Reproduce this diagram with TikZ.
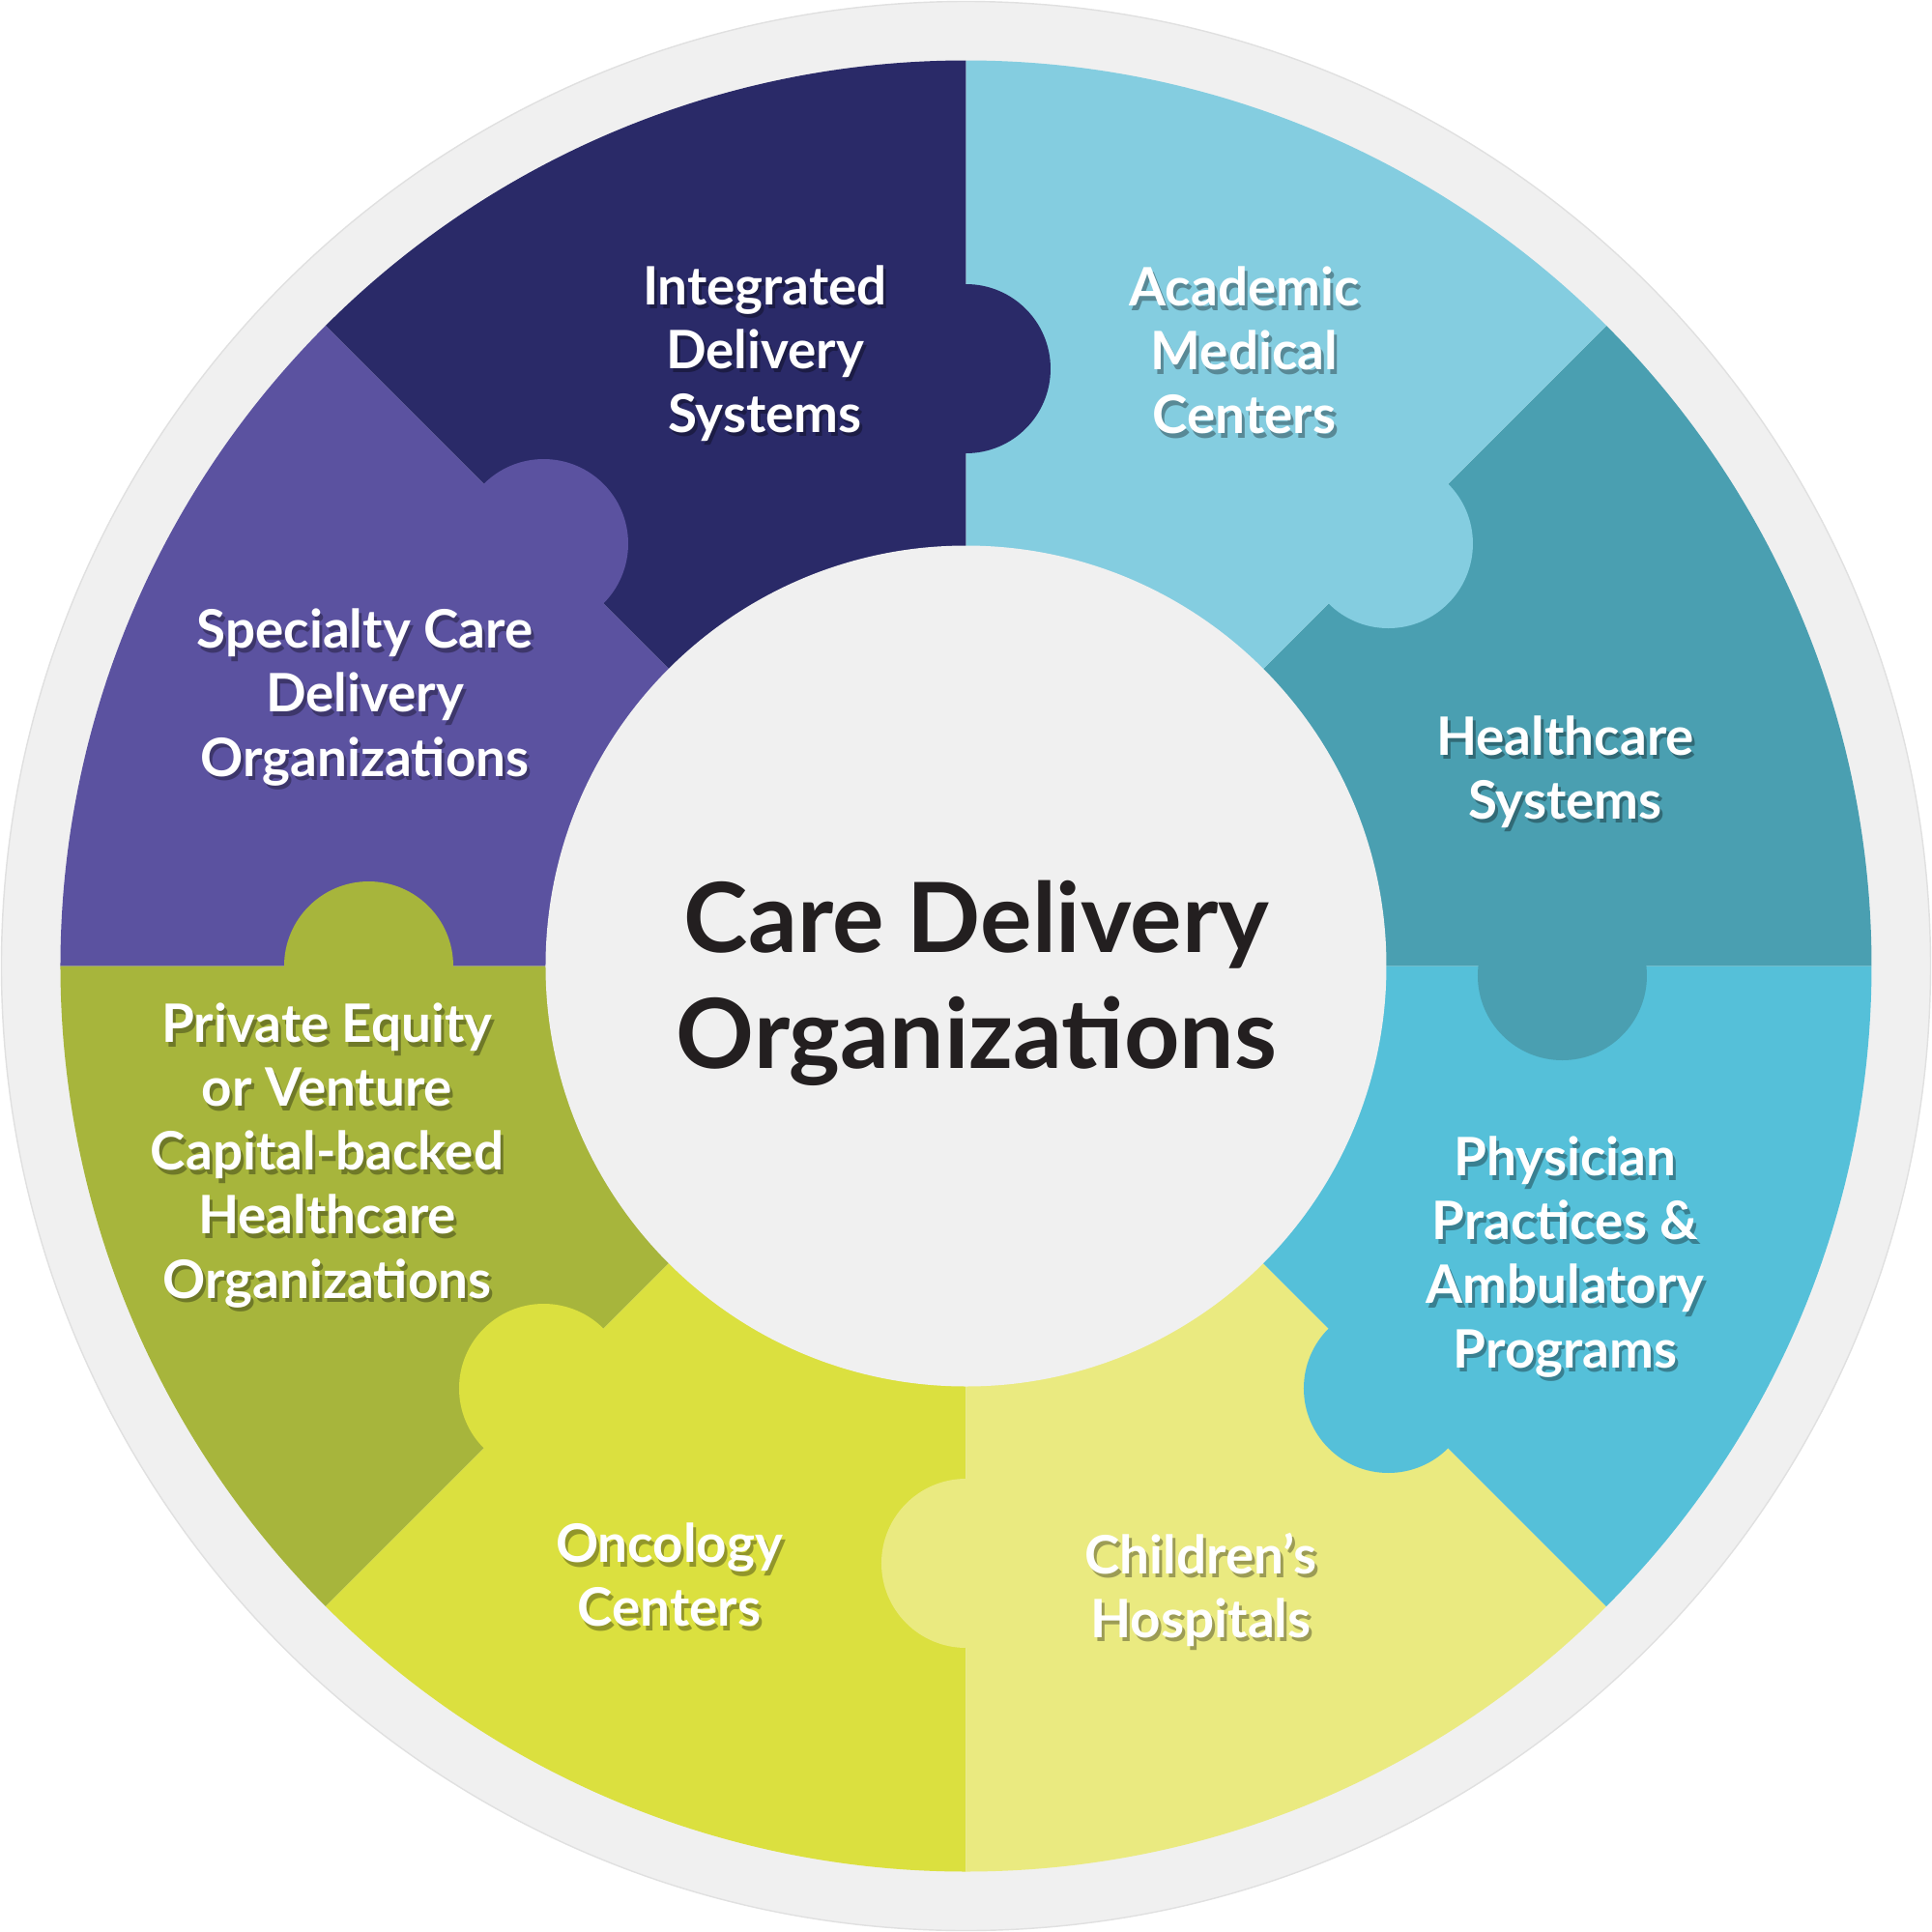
\documentclass[tikz,border=0pt]{standalone}
\usepackage{fontspec}
\setmainfont{Lato}
\definecolor{cRing}{HTML}{F0F0F0}
\definecolor{cInk}{HTML}{231F20}
\definecolor{cTeal}{HTML}{4A9FB1}
\definecolor{cSky}{HTML}{84CDE0}
\definecolor{cNavy}{HTML}{2A2A68}
\definecolor{cPurple}{HTML}{5B52A0}
\definecolor{cOlive}{HTML}{A7B53C}
\definecolor{cLime}{HTML}{DBE03F}
\definecolor{cPale}{HTML}{EAEA80}
\definecolor{cCyan}{HTML}{55C0D9}
\begin{document}
\begin{tikzpicture}[line join=round,
 lbl/.style={text=white,align=center,font=\fontsize{15.6}{18.8}\selectfont\bfseries},
 shd/.style={lbl,text=black,opacity=.33,xshift=.3mm,yshift=-.45mm}]
\useasboundingbox (-9.995,-9.995) rectangle (9.995,9.995);
\fill[cRing,draw=black!12,line width=.4pt] (0,0) circle (9.98);
% puzzle pieces, knob on the clockwise side
\foreach \a/\c in {0/cTeal,45/cSky,90/cNavy,135/cPurple,180/cOlive,225/cLime,270/cPale,315/cCyan}
 \fill[\c] (0,0) -- (\a:9.37) arc (\a:\a+45:9.37) -- cycle;
\foreach \a/\c in {45/cSky,90/cNavy,135/cPurple,180/cOlive,225/cLime,270/cPale,315/cCyan}
 \fill[\c] (\a:6.18) circle (.875);
\fill[cTeal] (6.17,-.1) circle (.875);
\fill[cRing] (0,0) circle (4.35);
% labels
\foreach \n/\p/\t in {
 ids/{-2.08,6.34}/{Integrated\\Delivery\\Systems},
 amc/{2.88,6.37}/{Academic\\Medical\\Centers},
 hcs/{6.2,2.01}/{Healthcare\\Systems},
 ppa/{6.2,-3.01}/{Physician\\Practices \&\\Ambulatory\\Programs},
 chh/{2.43,-6.45}/{Children’s\\Hospitals},
 onc/{-3.07,-6.30}/{Oncology\\Centers},
 pev/{-6.61,-1.96}/{Private Equity\\or Venture\\Capital-backed\\Healthcare\\Organizations},
 scd/{-6.22,2.78}/{Specialty Care\\Delivery\\Organizations}}{
 \node[shd] (\n-s) at (\p) {\t};
 \node[lbl] (\n) at (\p) {\t};
}
\node[text=cInk,align=center,font=\fontsize{28.5}{34}\selectfont\bfseries] (cdo) at (.11,-.18) {Care Delivery\\Organizations};
\end{tikzpicture}
\end{document}
